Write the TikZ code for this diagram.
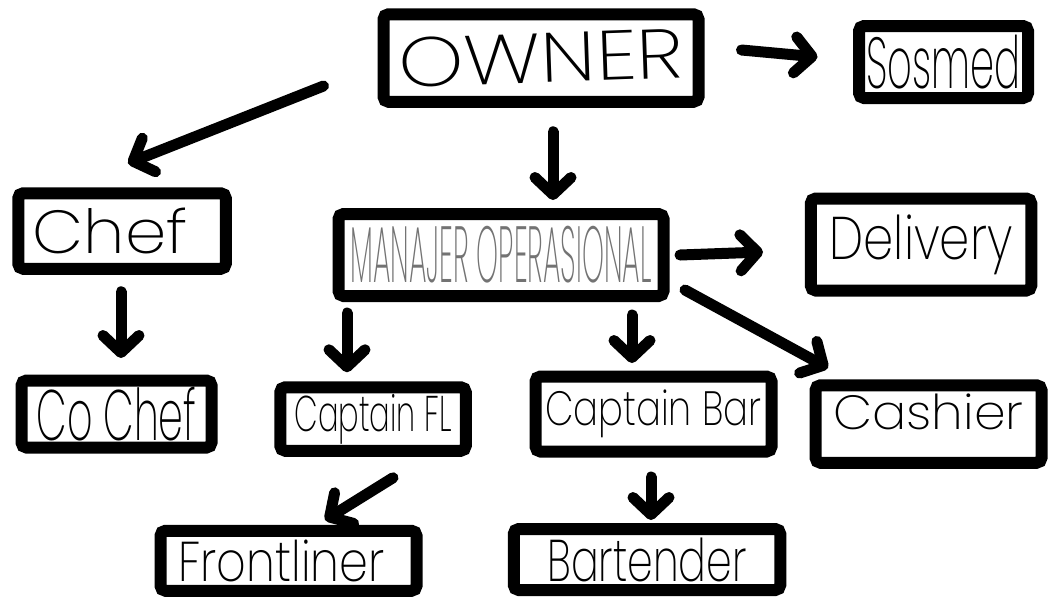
\documentclass[tikz,border=0pt]{standalone}
\usepackage{fontspec}
\setmainfont{Poppins ExtraLight}
\usepackage{graphicx}
\usetikzlibrary{positioning,arrows.meta}
\tikzstyle{obox}=[rectangle, rounded corners=5pt, draw=black, line width=12pt,
                  inner sep=0pt, text centered]
\tikzstyle{parrow}=[-{Straight Barb[length=17pt,width=36pt,round]}, line width=11pt,
                    line cap=round]
\newcommand{\fitword}[3]{\resizebox*{#1}{#2}{#3}}
\begin{document}
\begin{tikzpicture}[x=1pt, y=-1pt]
\path[use as bounding box, fill=white] (0,0) rectangle (1049,600);

\node (OWNER) [obox, minimum width=315pt, minimum height=87.5pt] at (541,58)
  {\rotatebox{2}{\fitword{285pt}{50pt}{OWNER}}};
\node (SOSMED) [obox, minimum width=169pt, minimum height=72pt,
  right=148.5pt of OWNER, yshift=-4pt] {\fitword{154pt}{54pt}{Sosmed}};
\node (MANAJER) [obox, minimum width=325pt, minimum height=82pt,
  below=100.25pt of OWNER, xshift=-40pt]
  {\color{black!55}\fitword{301pt}{57pt}{MANAJER OPERASIONAL}};
\node (CHEF) [obox, minimum width=207.5pt, minimum height=75.5pt,
  left=100.75pt of MANAJER, yshift=24pt] {\fitword{155pt}{46pt}{Chef}\hspace*{23pt}};
\node (DELIV) [obox, minimum width=220.5pt, minimum height=92pt,
  right=135.25pt of MANAJER, yshift=10.5pt] {\fitword{183pt}{60pt}{Delivery}};
\node (COCHEF) [obox, minimum width=190pt, minimum height=67pt,
  below=99.75pt of CHEF, xshift=-5.5pt] {\fitword{160pt}{54pt}{Co Chef}};
\node (CAPTFL) [obox, minimum width=185.5pt, minimum height=63.5pt,
  below=79.25pt of MANAJER, xshift=-128pt] {\fitword{157pt}{50pt}{Captain FL}};
\node (CAPTBAR) [obox, minimum width=236pt, minimum height=75pt,
  below=68.5pt of MANAJER, xshift=152.5pt] {\fitword{216pt}{48pt}{Captain Bar}};
\node (CASHIER) [obox, minimum width=226pt, minimum height=77.5pt,
  right=32pt of CAPTBAR, yshift=-10pt] {\raisebox{24pt}{\fitword{190pt}{36pt}{Cashier}}};
\node (FRONTL) [obox, minimum width=256pt, minimum height=60pt,
  below=68pt of CAPTFL, xshift=-84.5pt]
  {\fitword{206pt}{42pt}{Frontliner}\hspace*{14pt}};
\node (BARTEND) [obox, minimum width=266.5pt, minimum height=61pt,
  below=65.5pt of CAPTBAR, xshift=-6.5pt] {\fitword{199pt}{44pt}{Bartender}};

 \draw[parrow] ([shift={(-54,28)}]OWNER.west) -- ([shift={(6,-24)}]CHEF.north);
 \draw[parrow] ([shift={(12,24)}]OWNER.south) -- ([shift={(52,-8)}]MANAJER.north);
 \draw[parrow] ([shift={(37,-8)}]OWNER.east) -- ([shift={(-35.5,-5)}]SOSMED.west);
 \draw[parrow] ([shift={(10.5,0)}]MANAJER.east) -- ([shift={(-41.75,7.5)}]DELIV.west);
 \draw[parrow] ([shift={(15.5,-12)}]MANAJER.south east) -- ([shift={(18.5,-11.25)}]CASHIER.north west);
 \draw[parrow] ([shift={(-1,17)}]CHEF.south) -- ([shift={(4.5,-16.5)}]COCHEF.north);
 \draw[parrow] ([shift={(14.5,11)}]MANAJER.south west) -- ([shift={(-26,-9)}]CAPTFL.north);
 \draw[parrow] ([shift={(-37.5,13)}]MANAJER.south east) -- ([shift={(-21.5,-7.5)}]CAPTBAR.north);
 \draw[parrow] ([shift={(20,21)}]CAPTFL.south) -- ([shift={(36.5,-4.75)}]FRONTL.north);
 \draw[parrow] ([shift={(-2.5,19.5)}]CAPTBAR.south) -- ([shift={(4,-3)}]BARTEND.north);

\end{tikzpicture}
\end{document}
